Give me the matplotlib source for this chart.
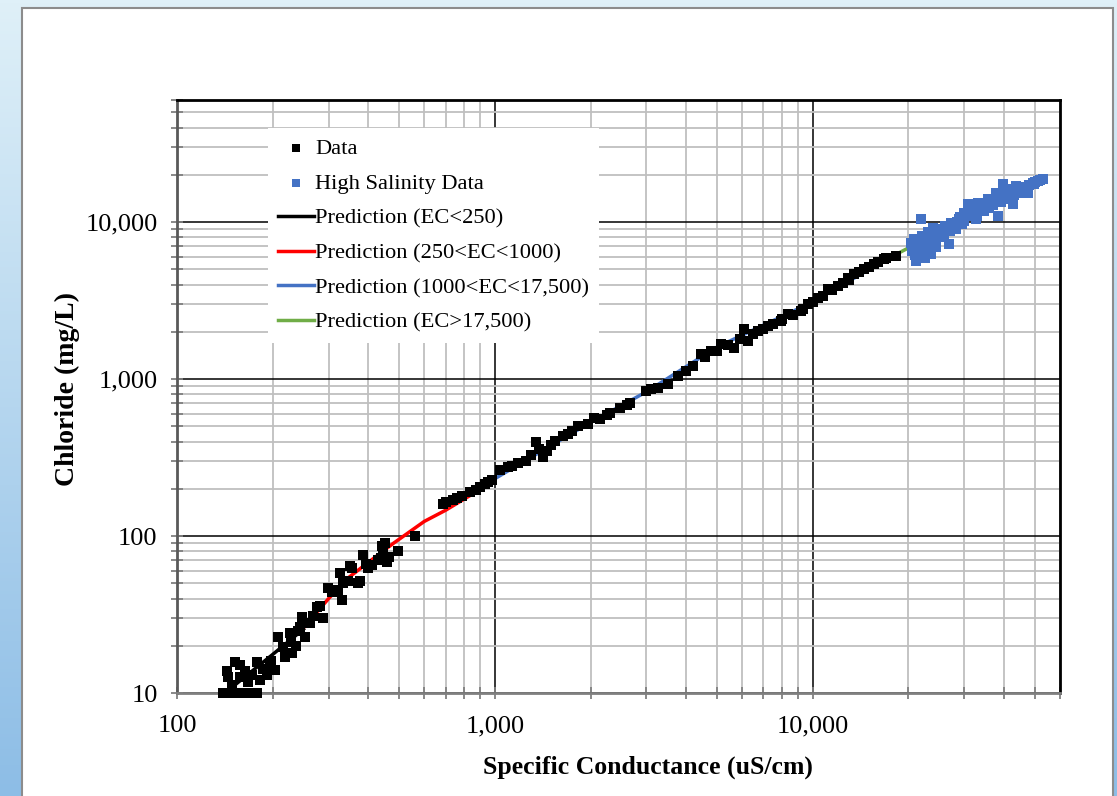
import numpy as np
import matplotlib.pyplot as plt
from matplotlib.patches import Rectangle
from matplotlib.colors import LinearSegmentedColormap
from matplotlib.ticker import FuncFormatter, LogLocator

plt.rcParams['font.family'] = ['Liberation Serif', 'DejaVu Serif']

# measured data (black squares): specific conductance (uS/cm), chloride (mg/L)
data_x = [140, 148, 156, 165, 172, 178, 152, 144, 149, 164, 167, 179, 182, 196, 204,
          208, 216, 219, 227, 230, 244, 247, 253, 262, 276, 288, 299, 308, 326, 331,
          333, 356, 372, 377, 385, 400, 430, 442, 446, 458, 497, 562,
          145, 158, 172, 186, 192, 198, 236, 240, 268, 282, 350, 392, 412, 452, 466,
          438, 320, 345, 228, 158,
          689, 700, 740, 760, 790, 837, 870, 900, 933, 950, 982, 1040, 1100, 1134,
          1186, 1250, 1295, 1345, 1380, 1420, 1460, 1500, 1550, 1640, 1700, 1750,
          1830, 1960, 2045, 2150, 2250, 2310, 2480, 2600, 2670, 2980, 3100, 3250,
          3500, 3760, 3980, 4190, 4440, 4600, 4780, 5000, 5130, 5400, 5640, 5900,
          6070, 6240, 6500, 6710, 7000, 7220, 7500, 7930, 8000, 8340, 8700, 9160,
          9300, 9640, 10000, 10370, 10800, 11150, 11500, 11990, 12500, 12890, 13000,
          13470, 14000, 14480, 15000, 15570, 16000, 16740, 17000, 18250]
data_y = [10, 10, 10, 10, 10, 10, 15.7, 13.8, 11.2, 13.8, 11.7, 15.7, 12.1, 14.6, 14,
          22.7, 19.6, 17, 24.1, 17.9, 26.3, 30.4, 22.7, 27.8, 35.1, 30, 47, 43.8, 58, 39,
          50, 63, 50, 52, 75.5, 63, 70, 87, 77.5, 68, 80, 100,
          12.6, 12.6, 13, 14.2, 13, 16, 20, 25, 31, 36, 64, 66, 65, 90, 74,
          72, 45, 52, 21, 15,
          161, 165, 169, 175, 181, 190, 197, 204, 216, 220, 226, 262, 275, 281,
          294, 302, 326, 395, 360, 317, 348, 380, 406, 437, 450, 470,
          506, 521, 567, 558, 590, 611, 657, 680, 706, 840, 860, 880,
          935, 1050, 1130, 1220, 1450, 1380, 1520, 1500, 1680, 1650, 1585, 1800,
          2090, 1750, 1950, 2030, 2100, 2185, 2250, 2350, 2400, 2600, 2550, 2720,
          2800, 3015, 3100, 3290, 3400, 3755, 3700, 3925, 4100, 4410, 4300,
          4680, 4800, 5035, 5200, 5420, 5600, 5825, 5900, 6090]

# high salinity data (blue squares)
hs_x = [20370, 21100, 21880, 22370, 23550, 23880, 24770, 26810, 27210, 28200, 29910,
        30780, 32600, 33100, 34580, 36380, 37700, 38260, 39650, 41420, 42650, 43590,
        45170, 47540, 49310, 51160, 53000,
        20800, 21500, 22000, 22800, 23000, 24000, 25000, 25500, 26000, 27000, 28500,
        29000, 30000, 31000, 31500, 32000, 33800, 35000, 36000, 37000, 38800, 40000,
        41000, 42000, 44000, 46000, 48000, 50000, 52000, 20500, 21000, 22500, 24500,
        23200, 25800, 27800, 29400, 30400, 33000, 34200, 36800, 39000, 43000, 45800,
        47000, 21300, 22200, 24200, 26400, 28800, 31800, 35600, 40600, 44600, 49800]
hs_y = [7360, 5660, 10470, 6740, 6270, 9180, 8160, 7260, 9860, 9040, 11430,
        13040, 10470, 13220, 11770, 13220, 15300, 10940, 17460, 14650, 13040, 16980,
        15300, 15300, 17730, 18250, 18780,
        7800, 7000, 8200, 7600, 8600, 7800, 9000, 8400, 9500, 8800, 10000,
        10800, 10200, 11000, 12200, 11600, 12000, 12800, 12300, 13800, 14200, 14000,
        15500, 16200, 15800, 16500, 17200, 18000, 18500, 6500, 6200, 5900, 6900,
        7300, 8000, 9300, 9700, 11300, 11000, 12500, 12900, 13400, 14800, 16200,
        16800, 7400, 6600, 8700, 9200, 10400, 12600, 14000, 15000, 16600, 17600]

# prediction curves
pred1_x = [150, 200, 250]
pred1_y = [11, 17.6, 25.5]
pred2_x = [250, 300, 345, 400, 480, 600, 700, 850, 1000]
pred2_y = [26, 40, 54, 68, 90, 124, 146, 185, 232]
pred3_x = [1000, 2000, 3000, 5000, 10000, 17500]
pred3_y = [232, 530, 830, 1600, 3100, 5950]
pred4_x = [17500, 53000]
pred4_y = [5950, 19000]

fig = plt.figure(figsize=(11.17, 7.96), dpi=100)

# slide background: blue gradient with a white chart area
bg = fig.add_axes([0, 0, 1, 1], zorder=-10)
grad = np.linspace(0, 1, 256).reshape(-1, 1)
cmap = LinearSegmentedColormap.from_list('bg', ['#dff0f8', '#8dbde6'])
bg.imshow(grad, aspect='auto', cmap=cmap, extent=[0, 1, 0, 1])
bg.add_patch(Rectangle((22 / 1117, -0.01), (1113 - 22) / 1117, 1 - 8 / 796 + 0.01,
                       facecolor='white', edgecolor='#8c8c8c', lw=1.5))
bg.set_xlim(0, 1)
bg.set_ylim(0, 1)
bg.axis('off')

ax = fig.add_axes([177 / 1117, 1 - 693 / 796, (1060 - 177) / 1117, (693 - 100) / 796])
ax.set_xscale('log')
ax.set_yscale('log')
ax.set_xlim(100, 60000)
ax.set_ylim(10, 60000)

c_blue = '#4472C4'
l1, = ax.plot(pred1_x, pred1_y, color='black', lw=2.5, zorder=2)
l2, = ax.plot(pred2_x, pred2_y, color='#FF0000', lw=2.5, zorder=2)
l3, = ax.plot(pred3_x, pred3_y, color=c_blue, lw=2.5, zorder=2)
l4, = ax.plot(pred4_x, pred4_y, color='#70AD47', lw=2.5, zorder=2)

s1 = ax.scatter(data_x, data_y, marker='s', s=50, color='black', linewidths=0,
                zorder=3, clip_on=False)
s2 = ax.scatter(hs_x, hs_y, marker='s', s=50, color=c_blue, linewidths=0,
                zorder=3, clip_on=False)

# grid
ax.set_axisbelow(True)
ax.xaxis.set_minor_locator(LogLocator(base=10, subs=np.arange(2, 10)))
ax.yaxis.set_minor_locator(LogLocator(base=10, subs=np.arange(2, 10)))
ax.grid(which='major', color='black', lw=1.1)
ax.grid(which='minor', color='#bfbfbf', lw=1.3)

fmt = FuncFormatter(lambda v, p: f'{v:,.0f}')
ax.xaxis.set_major_formatter(fmt)
ax.yaxis.set_major_formatter(fmt)
ax.xaxis.set_minor_formatter(FuncFormatter(lambda v, p: ''))
ax.yaxis.set_minor_formatter(FuncFormatter(lambda v, p: ''))
ax.tick_params(which='both', direction='inout', length=8, width=1.3, color='#808080',
               labelsize=19)
ax.tick_params(axis='x', which='major', pad=12)
ax.tick_params(axis='y', which='major', pad=10)

for side in ['top', 'right']:
    ax.spines[side].set_color('black')
    ax.spines[side].set_linewidth(2)
ax.spines['left'].set_color('#595959')
ax.spines['left'].set_linewidth(2)
ax.spines['bottom'].set_color('#808080')
ax.spines['bottom'].set_linewidth(2)

ax.set_xlabel('Specific Conductance (uS/cm)', fontsize=18.5, fontweight='bold')
ax.xaxis.set_label_coords(0.533, -0.106)
ax.set_ylabel('Chloride (mg/L)', fontsize=20, fontweight='bold')
ax.yaxis.set_label_coords(-0.110, 0.513)

leg = ax.legend([s1, s2, l1, l2, l3, l4],
                ['Data', 'High Salinity Data', 'Prediction (EC<250)',
                 'Prediction (250<EC<1000)', 'Prediction (1000<EC<17,500)',
                 'Prediction (EC>17,500)'],
                loc='upper left', bbox_to_anchor=(0.103, 0.952), fontsize=16.2,
                frameon=True, fancybox=False, framealpha=1, edgecolor='white',
                handlelength=1.6, handletextpad=0.05, labelspacing=0.62,
                markerscale=0.8, borderpad=0.45, borderaxespad=0)
leg.get_frame().set_linewidth(0)

fig.savefig('out.png', dpi=100)
